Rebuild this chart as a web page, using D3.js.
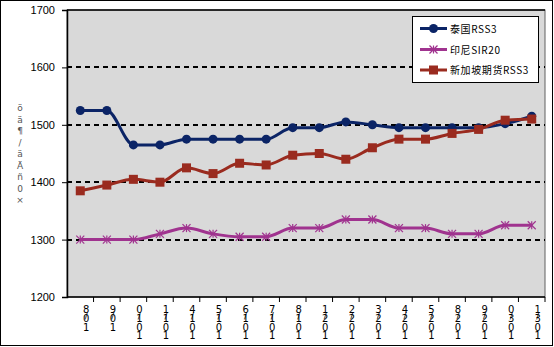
<!DOCTYPE html>
<html>
<head>
<meta charset="utf-8">
<script src="https://cdn.jsdelivr.net/npm/d3@7"></script>
<style>
  html, body { margin: 0; padding: 0; background: #fff; }
  svg { display: block; }
</style>
</head>
<body>
<svg id="chart" width="554" height="347"></svg>
<script>
// Date labels along the bottom (stacked vertically, one glyph per row)
const categories = ["8/01","9/01","0/101","1/101","4/101","5/101","6/101","7/101","8/101",
                    "1/201","2/201","3/201","4/201","5/201","8/201","9/201","0/301","1/301"];
// Prices per series
const thaiRSS3 = [1525,1525,1465,1465,1475,1475,1475,1475,1495,1495,1505,1500,1495,1495,1495,1495,1502,1515];
const indoSIR20 = [1300,1300,1300,1310,1320,1310,1305,1305,1320,1320,1335,1335,1320,1320,1310,1310,1325,1325];
const sgxRSS3 = [1385,1395,1405,1400,1425,1415,1433,1430,1447,1450,1440,1460,1475,1475,1485,1492,1508,1510];
const yTicks = [1200,1300,1400,1500,1600,1700];
const seriesNames = ["泰国RSS3","印尼SIR20","新加坡期货RSS3"];
const yTitle = ["ö","ä","¶","/","ä","Ä","ñ","0","×"];

const svg = d3.select("#chart");
const W = 554, H = 347;
const plot = {left: 67, right: 545, top: 10, bottom: 297};

// outer frame
svg.append("rect").attr("x", 0.5).attr("y", 0.5).attr("width", W - 2).attr("height", H - 2)
  .attr("fill", "#fff").attr("stroke", "#000").attr("stroke-width", 1);

const x = d3.scaleBand().domain(categories).range([plot.left, plot.right]);
const y = d3.scaleLinear().domain([1200, 1700]).range([plot.bottom, plot.top]);

// plot background
svg.append("rect").attr("x", plot.left).attr("y", plot.top)
  .attr("width", plot.right - plot.left).attr("height", plot.bottom - plot.top)
  .attr("fill", "#d9d9d9").attr("stroke", "#606060").attr("stroke-width", 1);

// dashed gridlines
svg.append("g").selectAll("line").data(yTicks.filter(v => v > 1200 && v < 1700)).join("line")
  .attr("x1", plot.left).attr("x2", plot.right)
  .attr("y1", d => Math.round(y(d))).attr("y2", d => Math.round(y(d)))
  .attr("stroke", "#000").attr("stroke-width", 2).attr("stroke-dasharray", "5,4");

// top border
svg.append("line").attr("x1", plot.left).attr("x2", plot.right)
  .attr("y1", plot.top).attr("y2", plot.top).attr("stroke", "#000").attr("stroke-width", 1.5);

// y axis
const yAxis = svg.append("g").attr("transform", `translate(${plot.left},0)`)
  .call(d3.axisLeft(y).tickValues(yTicks).tickSize(5).tickPadding(7).tickFormat(d3.format("d")));
yAxis.select(".domain").attr("stroke", "#000").attr("stroke-width", 1.5);
yAxis.selectAll("text").attr("font-family", "Liberation Sans, Arial, sans-serif")
  .attr("font-size", 11).attr("fill", "#000");

// x axis with ticks at category boundaries
const xAxisG = svg.append("g");
xAxisG.append("line").attr("x1", plot.left).attr("x2", plot.right)
  .attr("y1", plot.bottom).attr("y2", plot.bottom).attr("stroke", "#000").attr("stroke-width", 1.5);
xAxisG.selectAll("line.tick").data(categories.slice(1).concat(["__end"])).join("line")
  .attr("class", "tick")
  .attr("x1", (d, i) => plot.left + x.step() * (i + 1))
  .attr("x2", (d, i) => plot.left + x.step() * (i + 1))
  .attr("y1", plot.bottom).attr("y2", plot.bottom + 5)
  .attr("stroke", "#000");

// stacked category labels, one glyph per row
const lab = svg.append("g").attr("font-family", "DejaVu Sans, sans-serif").attr("font-size", 10).attr("fill", "#000");
categories.forEach(c => {
  const cx = x(c) + x.bandwidth() / 2 + 6;
  const parts = c.split("/");
  const glyphs = (parts[0] + parts[1]).split("");
  glyphs.forEach((g, j) => {
    lab.append("text").attr("x", cx).attr("y", 313 + j * 8.8)
      .attr("text-anchor", "middle").text(g);
  });
  lab.append("text").attr("x", cx).attr("y", 319).attr("text-anchor", "middle")
    .attr("font-size", 9).text("/");
});

// y axis title (stacked glyphs)
const yt = svg.append("g").attr("font-family", "DejaVu Sans, sans-serif").attr("font-size", 9).attr("fill", "#555");
yTitle.forEach((g, j) => {
  yt.append("text").attr("x", 20).attr("y", 111 + j * 11.5).attr("text-anchor", "middle").text(g);
});

// series
const colors = ["#0b2466", "#a0338f", "#9a2b1f"];
const allSeries = [thaiRSS3, indoSIR20, sgxRSS3];
const line = d3.line()
  .x((d, i) => x(categories[i]) + x.bandwidth() / 2)
  .y(d => y(d))
  .curve(d3.curveMonotoneX);

allSeries.forEach((s, k) => {
  svg.append("path").datum(s).attr("d", line)
    .attr("fill", "none").attr("stroke", colors[k]).attr("stroke-width", 3);
});

function drawMarker(g, k, cx, cy) {
  if (k === 0) {
    g.append("circle").attr("cx", cx).attr("cy", cy).attr("r", 4.5).attr("fill", colors[0]);
  } else if (k === 1) {
    const p = g.append("g").attr("stroke", colors[1]).attr("stroke-width", 1.2);
    p.append("line").attr("x1", cx - 4).attr("x2", cx + 4).attr("y1", cy - 4).attr("y2", cy + 4);
    p.append("line").attr("x1", cx - 4).attr("x2", cx + 4).attr("y1", cy + 4).attr("y2", cy - 4);
    p.append("line").attr("x1", cx).attr("x2", cx).attr("y1", cy - 4).attr("y2", cy + 4);
  } else {
    g.append("rect").attr("x", cx - 4.5).attr("y", cy - 4.5).attr("width", 9).attr("height", 9).attr("fill", colors[2]);
  }
}

allSeries.forEach((s, k) => {
  const g = svg.append("g");
  s.forEach((v, i) => drawMarker(g, k, x(categories[i]) + x.bandwidth() / 2, y(v)));
});

// legend
const lg = svg.append("g");
lg.append("rect").attr("x", 412.5).attr("y", 16.5).attr("width", 126).attr("height", 66)
  .attr("fill", "#fff").attr("stroke", "#000");
const rowsY = [28.5, 49.5, 70];
seriesNames.forEach((n, k) => {
  lg.append("line").attr("x1", 420).attr("x2", 447).attr("y1", rowsY[k]).attr("y2", rowsY[k])
    .attr("stroke", colors[k]).attr("stroke-width", 3);
  drawMarker(lg, k, 433.5, rowsY[k]);
  lg.append("text").attr("x", 450).attr("y", rowsY[k] + 4)
    .attr("font-family", "Noto Sans CJK SC, sans-serif").attr("font-size", 10)
    .attr("letter-spacing", 0.6).attr("fill", "#000").text(n);
});
</script>
</body>
</html>
